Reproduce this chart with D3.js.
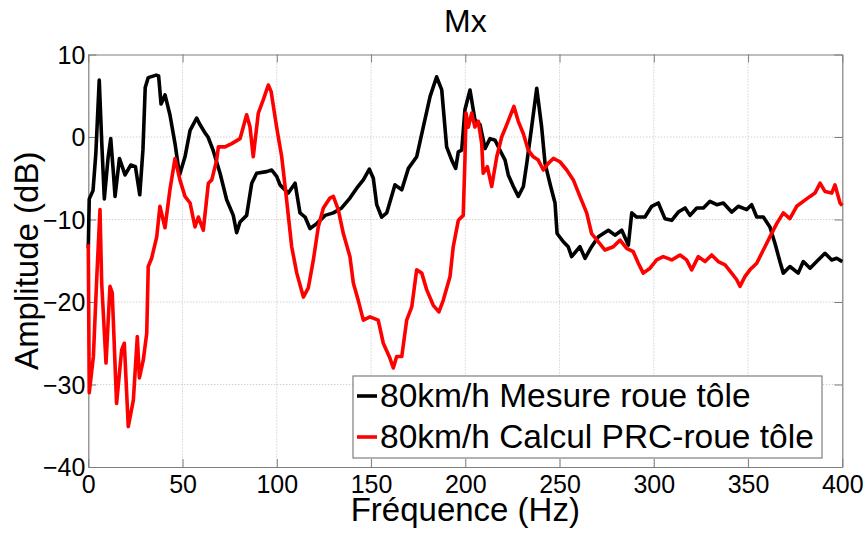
<!DOCTYPE html>
<html>
<head>
<meta charset="utf-8">
<script src="https://cdn.jsdelivr.net/npm/d3@7"></script>
<style>
  body { margin: 0; background: #fff; }
  svg text { font-family: "Liberation Sans", Arial, Helvetica, sans-serif; fill: #000; }
</style>
</head>
<body>
<div id="graph"></div>
<script>
const width = 867, height = 534;
const margin = { top: 54.5, right: 24.7, bottom: 67, left: 88.3 };
const plotW = width - margin.left - margin.right;
const plotH = height - margin.top - margin.bottom;

const xTicks = [0, 50, 100, 150, 200, 250, 300, 350, 400];
const yTicks = [-40, -30, -20, -10, 0, 10];
const seriesNames = ["80km/h Mesure roue tôle", "80km/h Calcul PRC-roue tôle"];
const seriesColors = ["#000000", "#ff0000"];

// 80km/h Mesure roue tôle : [frequency Hz, amplitude dB]
const mesure = [
    [0, -13.5], [0.5, -7.5], [2.5, -6.5], [4, -2], [5.8, 6.9], [7.2, -1], [8.5, -7.5], [10.5, -2.5],
    [11.9, -0.2], [13.2, -4], [14.2, -7.2], [16.5, -2.6], [19.5, -4.6], [22.5, -3.4], [25, -3.6],
    [27.3, -7], [29, -1.5], [30.2, 6], [31.8, 7.2], [36, 7.5], [37.3, 7.4], [38.6, 4], [40.7, 5.1],
    [43.3, 2.7], [46, -0.8], [48.4, -4.6], [51.3, -2.4], [54, 0.8], [57.5, 2.3], [59, 1.6],
    [61.9, 0.5], [63.5, 0], [66.2, -1.6], [69.9, -4.4], [73.4, -7.6], [76.9, -9.5], [78.7, -11.6],
    [80.5, -10.3], [84, -9.5], [86.7, -5.6], [89.3, -4.4], [94.6, -4.2], [97.3, -4], [100, -4.8],
    [101.7, -5.8], [106.1, -6.8], [109.7, -5.6], [112.3, -9.2], [115, -9.7], [117.6, -11.1],
    [121.2, -10.5], [125.6, -9.5], [130, -9.2], [134.4, -8.6], [138.8, -7.4], [142.4, -6.2],
    [145.9, -5.2], [149.1, -3.9], [151.2, -5], [153, -8.2], [155.6, -9.7], [158.3, -9.2],
    [162.7, -5.8], [166.3, -6.4], [169.8, -3.8], [174.2, -2.4], [177.7, 1.2], [181.3, 4.9],
    [184.8, 7.3], [187.5, 5.7], [190.1, -1.2], [192.8, -2.8], [194.9, -3.8], [196.3, -1.8],
    [198.1, -1.6], [199.8, 3.3], [202.5, 5.7], [205.1, 2.1], [207.8, 1.5], [210.5, -1.4],
    [213.1, -0.2], [215.8, -0.4], [218.4, -1.6], [221.1, -2.8], [222.8, -4.6], [225.5, -6],
    [228.1, -7.2], [230.8, -6], [232.6, -3.2], [235.2, 1.2], [237.9, 5.9], [240.5, 1.2],
    [242.3, -3.2], [245.3, -6], [247.6, -8], [248.7, -11.7], [252, -12.7], [254.6, -13.3],
    [256.4, -14.5], [260.8, -13.3], [263.5, -14.7], [267, -13.3], [270.6, -12.1], [275.9, -11.3],
    [279.4, -11.9], [283, -11.3], [286.5, -13.1], [288.3, -9.2], [290.9, -9.7], [295.3, -9.7],
    [298.9, -8.4], [302.4, -8], [305.9, -9.9], [309.5, -10.1], [313, -9.1], [316.6, -8.6],
    [319.2, -9.5], [322.8, -8.6], [326.3, -8.6], [329.8, -7.8], [333.4, -8.2], [336.9, -8],
    [341.3, -9.1], [344.8, -8.4], [349.3, -8.8], [351.9, -8.2], [354.6, -9.7], [358.1, -9.7],
    [361.6, -10.9], [364.3, -12.9], [366.9, -15.1], [368.7, -16.5], [372.2, -15.7], [376.6, -16.5],
    [379.3, -15.1], [382.9, -15.9], [386.4, -15.1], [390.8, -14.1], [394.4, -14.9], [397, -14.7],
    [400, -15.1]
];

// 80km/h Calcul PRC-roue tôle : [frequency Hz, amplitude dB]
const calcul = [
    [0, -13], [0.5, -31], [2.7, -26.6], [4.5, -17], [6.2, -8.8], [7.1, -17.7], [9.4, -27.4],
    [11.5, -18.1], [12.7, -18.9], [15, -32.3], [17.7, -25.8], [19.1, -25], [21.2, -35.1],
    [23.9, -31.9], [26, -24.2], [27.1, -29.2], [29.2, -27], [31, -23.8], [31.8, -15.7],
    [33.6, -14.7], [36.3, -12.1], [38, -8.4], [40.7, -11], [43.3, -6.4], [46, -2.6], [48.6, -5.2],
    [51.3, -7.2], [54, -8], [56.6, -10.9], [58.4, -9.7], [61, -11.3], [63.7, -5.6], [65.5, -5.2],
    [68.1, -2.8], [69, -1.2], [72.5, -1.2], [76.1, -0.8], [80.5, -0.2], [84, 2.7], [85.8, 1.2],
    [87.5, -2.4], [90.2, 2.9], [92.8, 4.5], [95.5, 6.3], [97, 5.5], [99.9, 1.2], [102.6, -2.4],
    [105.2, -7.6], [107.9, -13.3], [110.6, -16.5], [114.1, -19.4], [116.7, -18.3], [119.4, -14.9],
    [122, -10.9], [124.7, -8.6], [128.2, -7.4], [130, -7.2], [132.6, -8.8], [135.3, -11.7],
    [138.8, -14.5], [140.6, -17.7], [143.2, -19.8], [145.9, -22.2], [149.4, -21.8], [153.8, -22.2],
    [156.5, -25], [160, -26.8], [161.8, -28], [163.6, -26.6], [166.3, -26.6], [168.9, -22.2],
    [171.6, -20.6], [174.2, -16.1], [176.9, -16.5], [179.5, -18.5], [183, -20.4], [186, -21.2],
    [188.3, -19.8], [191.9, -16.9], [193.6, -13.3], [196.3, -10.1], [198.9, -9.5], [199.8, -2.8],
    [200.4, 2.9], [201.6, 1.2], [203.4, 2.9], [205.1, 1.2], [206.9, 1.9], [208.7, -0.8],
    [209.5, -4.4], [211.7, -3.6], [214, -6], [216.7, -2.4], [219.3, 0], [222, 1.5], [223.7, 2.5],
    [225.8, 3.7], [228.1, 1.9], [230.8, 0.4], [233.4, -1.6], [236.1, -2.4], [238.7, -2.8],
    [241.4, -4], [244, -3.2], [246.7, -2.6], [250.2, -3], [253.8, -4], [257.3, -5.2], [260.8, -7.2],
    [264.4, -9.2], [267, -11.7], [270.6, -12.7], [274.1, -13.7], [278.5, -13.3], [282.1, -12.5],
    [285.6, -13.5], [289.1, -13.9], [291.8, -15.3], [294.4, -16.5], [298, -15.9], [301.5, -14.9],
    [305, -14.5], [309.5, -14.9], [313.9, -14.3], [317.4, -14.9], [320.1, -16.1], [323.6, -14.5],
    [327.2, -15.1], [330.7, -14.3], [334.2, -15.1], [337.8, -15.5], [341.3, -16.5], [344, -17.3],
    [345.7, -18.1], [348.4, -16.9], [351, -16.1], [354.6, -15.3], [358.1, -13.7], [361.6, -12.1],
    [365.2, -10.5], [368.7, -9.2], [372.2, -9.9], [375.8, -8.4], [379.3, -7.8], [382.9, -7.2],
    [385.5, -6.8], [388.2, -5.6], [390.8, -6.6], [394.4, -6.8], [396.1, -5.8], [398.8, -8],
    [400, -8.3]
];

let svg = d3.select("#graph")
    .append("svg")
    .attr("width", width)
    .attr("height", height);

let g = svg.append("g")
    .attr("transform", `translate(${margin.left}, ${margin.top})`);

let x = d3.scaleLinear().domain([0, 400]).range([0, plotW]);
let y = d3.scaleLinear().domain([-40, 10]).range([plotH, 0]);

// grid
g.append("g").selectAll("line").data(xTicks.slice(1, -1)).enter()
    .append("line")
    .attr("x1", d => x(d)).attr("x2", d => x(d))
    .attr("y1", 0).attr("y2", plotH)
    .attr("stroke", "#bdbdbd").attr("stroke-width", 1).attr("stroke-dasharray", "1,2");

g.append("g").selectAll("line").data(yTicks.slice(1, -1)).enter()
    .append("line")
    .attr("x1", 0).attr("x2", plotW)
    .attr("y1", d => y(d)).attr("y2", d => y(d))
    .attr("stroke", "#bdbdbd").attr("stroke-width", 1).attr("stroke-dasharray", "1,2");

// axes, ticks pointing inward
const tickLen = 8;
const axisColor = "#7f7f7f";

let xAxis = g.append("g")
    .attr("transform", `translate(0, ${plotH})`)
    .call(d3.axisBottom(x).tickValues(xTicks).tickSizeInner(-tickLen).tickSizeOuter(0));
let xTop = g.append("g")
    .call(d3.axisTop(x).tickValues(xTicks).tickSizeInner(-tickLen).tickSizeOuter(0).tickFormat(""));
let yAxis = g.append("g")
    .call(d3.axisLeft(y).tickValues(yTicks).tickSizeInner(-tickLen).tickSizeOuter(0));
let yRight = g.append("g")
    .attr("transform", `translate(${plotW}, 0)`)
    .call(d3.axisRight(y).tickValues(yTicks).tickSizeInner(-tickLen).tickSizeOuter(0).tickFormat(""));

[xAxis, xTop, yAxis, yRight].forEach(a => {
    a.selectAll("path.domain").attr("stroke", axisColor).attr("stroke-width", 1.2);
    a.selectAll(".tick line").attr("stroke", axisColor).attr("stroke-width", 1);
});

xAxis.selectAll("text").style("font-size", "25px").attr("fill", "#000")
    .attr("y", 8).attr("dy", "0.71em");
yAxis.selectAll("text").style("font-size", "25px").attr("fill", "#000")
    .attr("x", -3).attr("dy", "0.34em");

// series lines
let line = d3.line()
    .x(d => x(d[0]))
    .y(d => y(d[1]));

[mesure, calcul].forEach((data, i) => {
    g.append("path")
        .datum(data)
        .attr("d", line)
        .attr("fill", "none")
        .attr("stroke", seriesColors[i])
        .attr("stroke-width", 3.6)
        .attr("stroke-linejoin", "round");
});

// title and labels
svg.append("text")
    .attr("x", margin.left + plotW / 2).attr("y", 32)
    .style("text-anchor", "middle").style("font-size", "32px")
    .text("Mx");

svg.append("text")
    .attr("x", margin.left + plotW / 2).attr("y", 521)
    .style("text-anchor", "middle").style("font-size", "33px")
    .text("Fréquence (Hz)");

svg.append("text")
    .attr("transform", `translate(38, ${margin.top + plotH / 2}) rotate(-90)`)
    .style("text-anchor", "middle").style("font-size", "33px")
    .text("Amplitude (dB)");

// legend
let legend = svg.append("g");
legend.append("rect")
    .attr("x", 353).attr("y", 376)
    .attr("width", 469).attr("height", 82)
    .attr("fill", "#fff").attr("stroke", axisColor).attr("stroke-width", 1.2);

seriesNames.forEach((name, i) => {
    let cy = 396 + i * 41;
    legend.append("line")
        .attr("x1", 357).attr("x2", 377)
        .attr("y1", cy).attr("y2", cy)
        .attr("stroke", seriesColors[i]).attr("stroke-width", 3.6);
    legend.append("text")
        .attr("x", 380).attr("y", cy + 11)
        .style("font-size", "33.5px")
        .text(name);
});
</script>
</body>
</html>
